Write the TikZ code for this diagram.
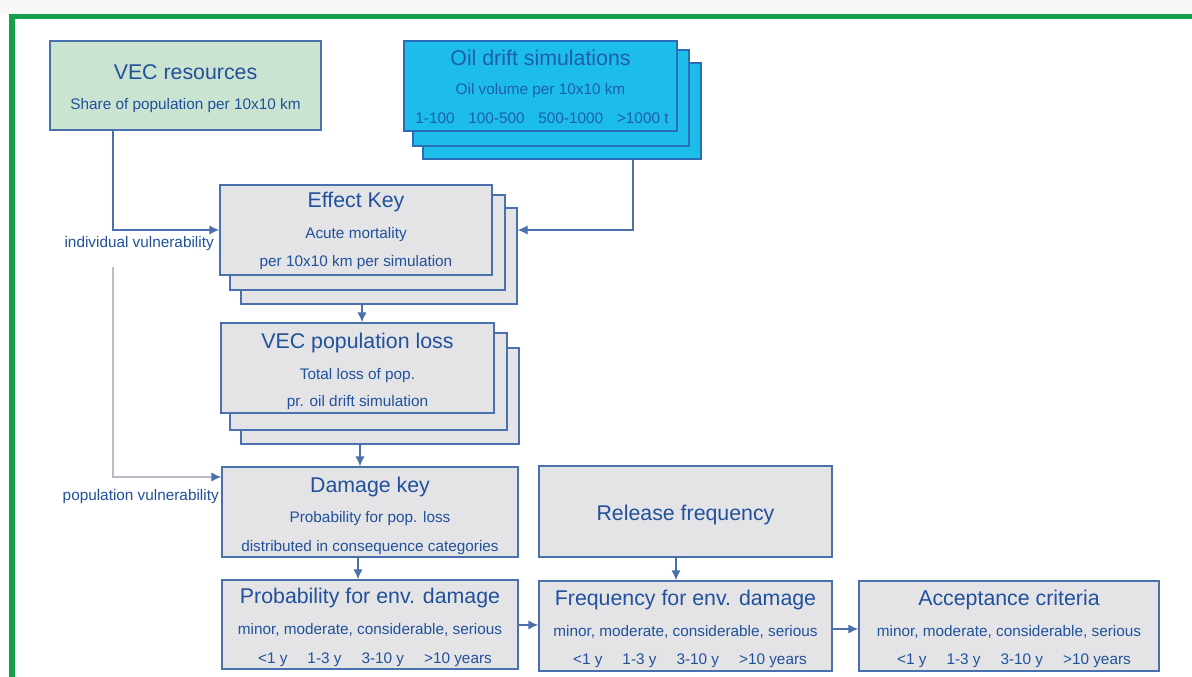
\documentclass[tikz,border=0pt]{standalone}
\usepackage{fontspec}
\setmainfont{Liberation Sans}
\usetikzlibrary{fit,arrows.meta}
\definecolor{bordblue}{HTML}{4A70AE}
\definecolor{txtblue}{HTML}{20519A}
\definecolor{boxgray}{HTML}{E4E4E7}
\definecolor{boxgreen}{HTML}{CBE4D1}
\definecolor{oilcyan}{HTML}{1DBDEB}
\definecolor{oilbord}{HTML}{2A6CB5}
\definecolor{oiltxt}{HTML}{1D5EA6}
\definecolor{framegreen}{HTML}{13A04A}
\definecolor{linegray}{HTML}{B8BCC4}
\tikzset{
  gbox/.style={draw=bordblue, fill=boxgray, line width=1.1pt, inner sep=0pt},
  greenbox/.style={gbox, fill=boxgreen},
  oilbox/.style={draw=oilbord, fill=oilcyan, line width=1.1pt, inner sep=0pt},
  titletxt/.style={text=txtblue, font=\fontsize{16}{18}\selectfont, inner sep=0pt, anchor=base},
  subtxt/.style={text=txtblue, font=\fontsize{11.5}{13}\selectfont, inner sep=0pt, anchor=base},
  lbltxt/.style={text=txtblue, font=\fontsize{11.5}{13}\selectfont, inner sep=0pt, anchor=base east},
  arr/.style={draw=bordblue, line width=1.1pt, -{Latex[length=7.5pt,width=7pt]}},
  grayarr/.style={draw=linegray, line width=1.1pt, -{Latex[length=7.5pt,width=7pt,color=bordblue]}},
}
\newcommand{\tgap}{\hspace{1.3em}}
\newcommand{\ogap}{\hspace{0.9em}}
\begin{document}
\begin{tikzpicture}[x=0.75pt,y=-0.75pt]
\useasboundingbox (0,0) rectangle (1192,677);
\fill[white] (0,0) rectangle (1192,677);
\fill[black!3] (0,0) rectangle (1192,14);
% frame
\draw[framegreen, line width=3.8pt, line join=miter] (12,677) -- (12,16.5) -- (1192,16.5);

% VEC resources
\node[greenbox, fit={(50,41) (321,130)}] (vec) {};
\node[titletxt] (vect) at (185.5,80) {VEC resources};
\node[subtxt] (vecs) at (185.5,110) {Share of population per 10x10 km};

% Oil drift simulations
\node[oilbox, fit={(423,63) (701,159)}] (oil3) {};
\node[oilbox, fit={(413,50) (689,146)}] (oil2) {};
\node[oilbox, fit={(404,41) (677,131)}] (oil1) {};
\node[titletxt, text=oiltxt] (oilt) at (540.5,66) {Oil drift simulations};
\node[subtxt, text=oiltxt] (oils1) at (540.5,95) {Oil volume per 10x10 km};
\node[subtxt, text=oiltxt] (oils2) at (542,124) {1-100\ogap 100-500\ogap 500-1000\ogap >1000 t};

% Effect Key
\node[gbox, fit={(241,208) (517,304)}] (ek3) {};
\node[gbox, fit={(230,195) (505,290)}] (ek2) {};
\node[gbox, fit={(220,185) (492,275)}] (ek1) {};
\node[titletxt] (ekt) at (356,208) {Effect Key};
\node[subtxt] (eks1) at (356,239) {Acute mortality};
\node[subtxt] (eks2) at (356,267) {per 10x10 km per simulation};

% VEC population loss
\node[gbox, fit={(241,348) (519,444)}] (pl3) {};
\node[gbox, fit={(230,333) (507,430)}] (pl2) {};
\node[gbox, fit={(221,323) (494,413)}] (pl1) {};
\node[titletxt] (plt) at (357.5,349) {VEC population loss};
\node[subtxt] (pls1) at (357.5,379) {Total loss of pop.};
\node[subtxt] (pls2) at (357.5,406) {pr. oil drift simulation};

% Damage key
\node[gbox, fit={(222,467) (518,557)}] (dk) {};
\node[titletxt] (dkt) at (370,492) {Damage key};
\node[subtxt] (dks1) at (370,522) {Probability for pop. loss};
\node[subtxt] (dks2) at (370,551) {distributed in consequence categories};

% Probability for env. damage
\node[gbox, fit={(222,580) (518,669)}] (pe) {};
\node[titletxt] (pet) at (370,603) {Probability for env. damage};
\node[subtxt] (pes1) at (370,634) {minor, moderate, considerable, serious};
\node[subtxt] (pes2) at (375,663) {<1 y\tgap 1-3 y\tgap 3-10 y\tgap >10 years};

% Release frequency
\node[gbox, fit={(539,466) (832,557)}] (rf) {};
\node[titletxt] (rft) at (685.5,520) {Release frequency};

% Frequency for env. damage
\node[gbox, fit={(539,581) (832,671)}] (fe) {};
\node[titletxt] (fet) at (685.5,605) {Frequency for env. damage};
\node[subtxt] (fes1) at (685.5,636) {minor, moderate, considerable, serious};
\node[subtxt] (fes2) at (690,664) {<1 y\tgap 1-3 y\tgap 3-10 y\tgap >10 years};

% Acceptance criteria
\node[gbox, fit={(859,581) (1159,671)}] (ac) {};
\node[titletxt] (act) at (1009,605) {Acceptance criteria};
\node[subtxt] (acs1) at (1009,636) {minor, moderate, considerable, serious};
\node[subtxt] (acs2) at (1014,664) {<1 y\tgap 1-3 y\tgap 3-10 y\tgap >10 years};

% labels
\node[lbltxt] (lbl1) at (214,248) {individual vulnerability};
\node[lbltxt] (lbl2) at (219,500) {population vulnerability};

% connectors
\coordinate (v1) at (113,0);
\coordinate (o1) at (633,0);
\coordinate (e1) at (362,0);
\coordinate (p1) at (360,0);
\coordinate (d1) at (358,0);
\coordinate (r1) at (676,0);
\coordinate (h1) at (0,625);
\coordinate (h2) at (0,629);
\coordinate (g1) at (113,267);
\coordinate (g2) at (0,477);

\draw[grayarr] (g1) |- (dk.west |- g2);
\draw[arr] (vec.south -| v1) |- (ek1.west);
\draw[arr] (oil3.south -| o1) |- (ek1.west -| ek3.east);
\draw[arr] (ek3.south -| e1) -- (pl1.north -| e1);
\draw[arr] (pl3.south -| p1) -- (dk.north -| p1);
\draw[arr] (dk.south -| d1) -- (pe.north -| d1);
\draw[arr] (rf.south -| r1) -- (fe.north -| r1);
\draw[arr] (pe.east |- h1) -- (fe.west |- h1);
\draw[arr] (fe.east |- h2) -- (ac.west |- h2);
\end{tikzpicture}
\end{document}
